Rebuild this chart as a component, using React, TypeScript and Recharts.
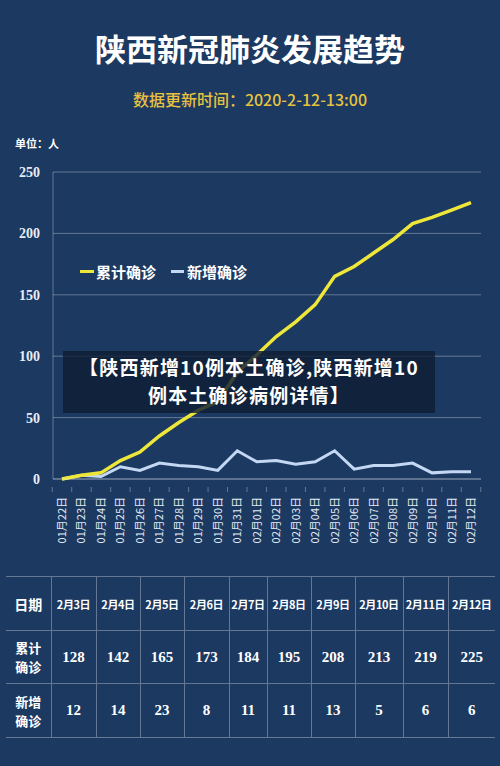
import { LineChart, Line, XAxis, YAxis, CartesianGrid, Legend } from 'recharts';

const dates = [
  '01月22日', '01月23日', '01月24日', '01月25日', '01月26日', '01月27日', '01月28日',
  '01月29日', '01月30日', '01月31日', '02月01日', '02月02日', '02月03日', '02月04日',
  '02月05日', '02月06日', '02月07日', '02月08日', '02月09日', '02月10日', '02月11日', '02月12日',
];
const cumulative = [0, 3, 5, 15, 22, 35, 46, 56, 63, 87, 101, 116, 128, 142, 165, 173, 184, 195, 208, 213, 219, 225];
const daily = [0, 3, 2, 10, 7, 13, 11, 10, 7, 23, 14, 15, 12, 14, 23, 8, 11, 11, 13, 5, 6, 6];
const yTicks = [0, 50, 100, 150, 200, 250];

const tableDates = ['2月3日', '2月4日', '2月5日', '2月6日', '2月7日', '2月8日', '2月9日', '2月10日', '2月11日', '2月12日'];
const tableStart = 12;

const chartData = dates.map((d, i) => ({ date: d, total: cumulative[i], added: daily[i] }));

const BG = '#1b3961';
const YELLOW = '#efe63a';
const BLUE = '#c4d8f4';
const CJK = '"Noto Sans CJK SC", "Noto Sans", sans-serif';
const SERIF = '"Liberation Serif", "DejaVu Serif", serif';
const STEP = 19.5;
const LINE_COLOR = 'rgba(255,255,255,0.32)';

const DateTick = ({ x, y, payload, index }: any) => (
  <g transform={`translate(${x},${y})`}>
    <line x1={-STEP / 2} x2={-STEP / 2} y1={0} y2={5} stroke={LINE_COLOR} />
    {index === dates.length - 1 && (
      <line x1={STEP / 2} x2={STEP / 2} y1={0} y2={5} stroke={LINE_COLOR} />
    )}
    <text
      transform='rotate(-90)'
      x={-10}
      y={4}
      textAnchor='end'
      fill='#e4eaf4'
      fontSize={11}
      fontFamily={CJK}
    >
      {payload.value}
    </text>
  </g>
);

const LegendContent = () => (
  <div style={{ display: 'flex', alignItems: 'center', fontFamily: CJK, fontWeight: 700, fontSize: 15, color: '#fff' }}>
    <span style={{ width: 14, height: 3, background: YELLOW, marginRight: 2 }} />
    <span>累计确诊</span>
    <span style={{ width: 13, height: 3, background: BLUE, marginLeft: 15, marginRight: 3 }} />
    <span>新增确诊</span>
  </div>
);

const cellBase: React.CSSProperties = {
  borderTop: `1px solid ${LINE_COLOR}`,
  borderBottom: `1px solid ${LINE_COLOR}`,
  textAlign: 'center',
  color: '#fff',
  fontWeight: 700,
  padding: 0,
};
const colWidths = [45, 45, 44, 44, 45, 38, 44, 44, 48, 45, 47];

const App = () => {
  return (
    <div style={{ position: 'absolute', left: 0, top: 0, width: 500, height: 766, background: BG, overflow: 'hidden' }}>
      <div style={{ position: 'absolute', top: 26, width: 500, textAlign: 'center', fontFamily: CJK, fontWeight: 700, fontSize: 31, color: '#fff', lineHeight: '44px' }}>
        陕西新冠肺炎发展趋势
      </div>
      <div style={{ position: 'absolute', top: 88, width: 500, textAlign: 'center', fontFamily: CJK, fontWeight: 500, fontSize: 16, color: '#e6c23f', lineHeight: '22px' }}>
        数据更新时间：2020-2-12-13:00
      </div>
      <div style={{ position: 'absolute', top: 135, left: 15, fontFamily: CJK, fontWeight: 700, fontSize: 11, color: '#fff', lineHeight: '16px' }}>
        单位：人
      </div>

      <div style={{ position: 'absolute', top: 160, left: 0 }}>
        <LineChart width={500} height={390} data={chartData} margin={{ top: 12, right: 19, bottom: 11, left: 0 }}>
          <CartesianGrid vertical={false} stroke={LINE_COLOR} />
          <XAxis
            dataKey='date'
            interval={0}
            tick={<DateTick />}
            tickLine={false}
            axisLine={{ stroke: LINE_COLOR }}
            height={60}
            padding={{ left: 9, right: 10 }}
          />
          <YAxis
            domain={[0, 250]}
            ticks={yTicks}
            width={53}
            tickLine={false}
            tickMargin={7}
            axisLine={{ stroke: LINE_COLOR }}
            tick={{ fill: '#e8edf5', fontSize: 14, fontFamily: SERIF, fontWeight: 700 }}
          />
          <Legend
            layout='horizontal'
            verticalAlign='middle'
            align='center'
            wrapperStyle={{ top: 101, left: 80, width: 'auto' }}
            content={<LegendContent />}
          />
          <Line type='linear' dataKey='added' stroke={BLUE} strokeWidth={3} dot={false} isAnimationActive={false} />
          <Line type='linear' dataKey='total' stroke={YELLOW} strokeWidth={3.5} dot={false} isAnimationActive={false} />
        </LineChart>
      </div>

      <div
        style={{
          position: 'absolute',
          left: 63,
          top: 351,
          width: 372,
          height: 62,
          background: 'rgba(16,30,52,0.82)',
          color: '#fff',
          fontFamily: CJK,
          fontWeight: 700,
          fontSize: 19,
          letterSpacing: 1.2,
          lineHeight: '28px',
          textAlign: 'center',
          paddingTop: 2,
          boxSizing: 'border-box',
          whiteSpace: 'nowrap',
        }}
      >
        【陕西新增10例本土确诊,陕西新增10
        <br />
        例本土确诊病例详情】
      </div>

      <table
        style={{
          position: 'absolute',
          left: 6,
          top: 576,
          width: 489,
          borderCollapse: 'collapse',
          tableLayout: 'fixed',
          fontFamily: CJK,
        }}
      >
        <colgroup>
          {colWidths.map((w, i) => (
            <col key={i} style={{ width: w }} />
          ))}
        </colgroup>
        <tbody>
          <tr style={{ height: 54 }}>
            <td style={{ ...cellBase, fontSize: 14 }}>日期</td>
            {tableDates.map((d) => (
              <td key={d} style={{ ...cellBase, borderLeft: `1px solid ${LINE_COLOR}`, fontSize: 11, letterSpacing: -0.4, whiteSpace: 'nowrap' }}>
                {d}
              </td>
            ))}
          </tr>
          <tr style={{ height: 53 }}>
            <td style={{ ...cellBase, fontSize: 13, lineHeight: '19px' }}>
              累计
              <br />
              确诊
            </td>
            {tableDates.map((d, i) => (
              <td key={d} style={{ ...cellBase, borderLeft: `1px solid ${LINE_COLOR}`, fontSize: 15, fontFamily: SERIF }}>
                {cumulative[tableStart + i]}
              </td>
            ))}
          </tr>
          <tr style={{ height: 54 }}>
            <td style={{ ...cellBase, fontSize: 13, lineHeight: '19px' }}>
              新增
              <br />
              确诊
            </td>
            {tableDates.map((d, i) => (
              <td key={d} style={{ ...cellBase, borderLeft: `1px solid ${LINE_COLOR}`, fontSize: 15, fontFamily: SERIF }}>
                {daily[tableStart + i]}
              </td>
            ))}
          </tr>
        </tbody>
      </table>
    </div>
  );
};

export default App;
